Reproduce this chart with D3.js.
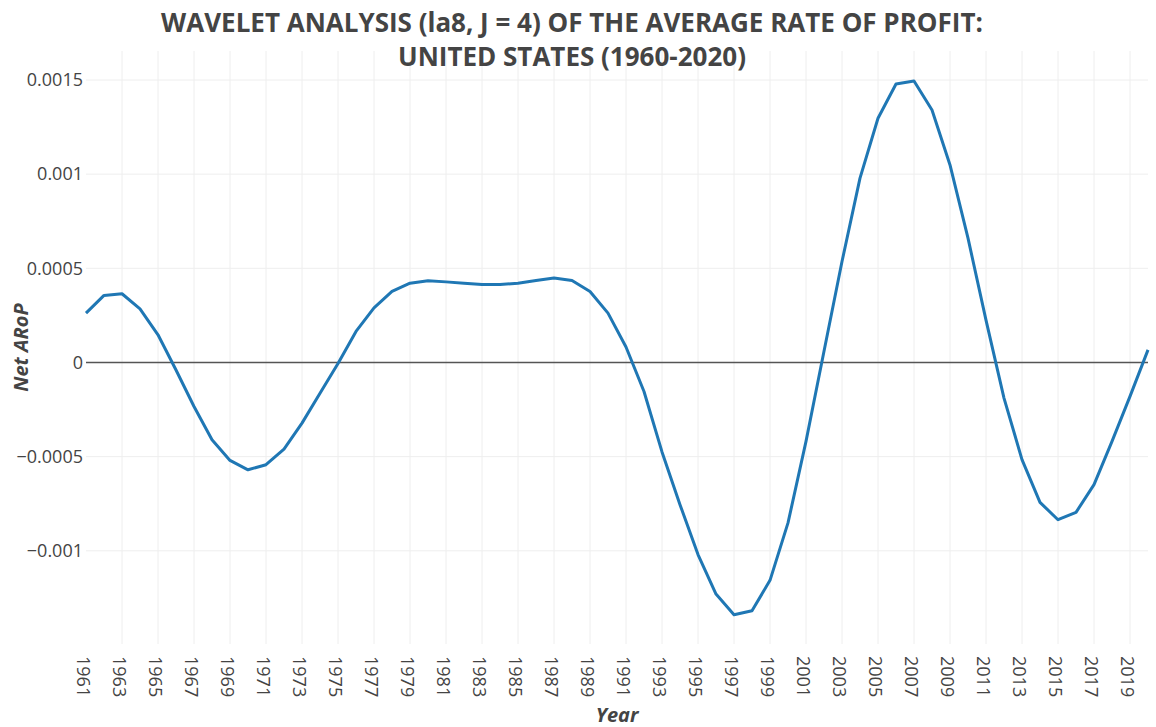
<!DOCTYPE html>
<html>
<head>
<meta charset="utf-8">
<script src="https://cdn.jsdelivr.net/npm/d3@7"></script>
<style>
  body { margin: 0; background: #fff; }
  #chart { width: 1156px; height: 727px; }
  text { font-family: "Open Sans", sans-serif; fill: #444; }
</style>
</head>
<body>
<div id="chart"></div>
<script>
// data
const years = d3.range(1961, 2021);
const netArop = [
  0.000262, 0.000356, 0.000365, 0.000285, 0.000147, -0.00004, -0.000234, -0.00041, -0.00052, -0.00057,
  -0.000543, -0.00046, -0.000322, -0.000163, -0.000005, 0.000165, 0.00029, 0.000377, 0.000421, 0.000434,
  0.000428, 0.000421, 0.000414, 0.000414, 0.000421, 0.000435, 0.000448, 0.000435, 0.000377, 0.000262,
  0.000082, -0.000154, -0.000475, -0.000755, -0.00102, -0.00123, -0.00134, -0.001318, -0.001157, -0.000852,
  -0.000419, 0.00006, 0.000536, 0.000979, 0.001297, 0.001479, 0.001495, 0.001341, 0.001049, 0.00066,
  0.000225, -0.000189, -0.000516, -0.000743, -0.000835, -0.000796, -0.000649, -0.000419, -0.00018, 0.000067
];
const yTicks = [0.0015, 0.001, 0.0005, 0, -0.0005, -0.001];
const yTickLabels = ["0.0015", "0.001", "0.0005", "0", "\u22120.0005", "\u22120.001"];
const xTicks = d3.range(1961, 2020, 2);
const titleLines = ["WAVELET ANALYSIS (la8, J = 4) OF THE AVERAGE RATE OF PROFIT:", "UNITED STATES (1960-2020)"];

let margin = {top: 51, right: 8, bottom: 83, left: 86},
    width = 1156 - margin.left - margin.right,
    height = 727 - margin.top - margin.bottom;

let svg = d3.select("#chart")
    .append("svg")
    .attr("width", 1156)
    .attr("height", 727);

let g = svg.append("g")
    .attr("transform", "translate(" + margin.left + "," + margin.top + ")");

let x = d3.scaleLinear()
    .domain([1961, 2020])
    .range([0, width]);

let y = d3.scaleLinear()
    .domain([-0.001495, 0.001654])
    .range([height, 0]);

// vertical grid (no line at the left edge)
g.append("g")
    .selectAll("line")
    .data(xTicks.filter(d => d > 1961))
    .join("line")
    .attr("x1", d => x(d)).attr("x2", d => x(d))
    .attr("y1", 0).attr("y2", height)
    .attr("stroke", "#eee")
    .attr("stroke-width", 1);

// horizontal grid
g.append("g")
    .selectAll("line")
    .data(yTicks.filter(d => d !== 0))
    .join("line")
    .attr("x1", 0).attr("x2", width)
    .attr("y1", d => y(d)).attr("y2", d => y(d))
    .attr("stroke", "#eee")
    .attr("stroke-width", 1);

// zero line
g.append("line")
    .attr("x1", 0).attr("x2", width)
    .attr("y1", y(0)).attr("y2", y(0))
    .attr("stroke", "#555")
    .attr("stroke-width", 1.6);

// y axis labels
let yAxis = g.append("g")
    .call(d3.axisLeft(y).tickValues(yTicks).tickSize(0).tickPadding(3)
        .tickFormat((d, i) => yTickLabels[i]));
yAxis.select(".domain").remove();
yAxis.selectAll("text")
    .style("font-family", "'Open Sans', sans-serif")
    .style("font-size", "18px")
    .attr("fill", "#444");

// x axis labels, rotated
let xAxis = g.append("g")
    .attr("transform", "translate(0," + height + ")")
    .call(d3.axisBottom(x).tickValues(xTicks).tickSize(0).tickFormat(d3.format("d")));
xAxis.select(".domain").remove();
xAxis.selectAll("text")
    .style("font-family", "'Open Sans', sans-serif")
    .style("font-size", "18px")
    .attr("fill", "#444")
    .attr("text-anchor", "start")
    .attr("y", 0)
    .attr("x", 12)
    .attr("dy", "0.55em")
    .attr("transform", "rotate(90)");

// the series
const line = d3.line()
    .x((d, i) => x(years[i]))
    .y(d => y(d));

g.append("path")
    .datum(netArop)
    .attr("fill", "none")
    .attr("stroke", "#1f77b4")
    .attr("stroke-width", 3)
    .attr("stroke-linejoin", "round")
    .attr("d", line);

// titles
svg.append("g")
    .selectAll("text")
    .data(titleLines)
    .join("text")
    .attr("x", 572)
    .attr("y", (d, i) => 32 + i * 33.5)
    .attr("text-anchor", "middle")
    .style("font-size", "26px")
    .style("font-weight", "bold")
    .text(d => d);

svg.append("text")
    .attr("transform", "translate(28," + (margin.top + height / 2) + ") rotate(-90)")
    .attr("text-anchor", "middle")
    .style("font-size", "20px")
    .style("font-weight", "bold")
    .style("font-style", "italic")
    .text("Net ARoP");

svg.append("text")
    .attr("x", margin.left + width / 2)
    .attr("y", 722)
    .attr("text-anchor", "middle")
    .style("font-size", "20px")
    .style("font-weight", "bold")
    .style("font-style", "italic")
    .text("Year");
</script>
</body>
</html>
